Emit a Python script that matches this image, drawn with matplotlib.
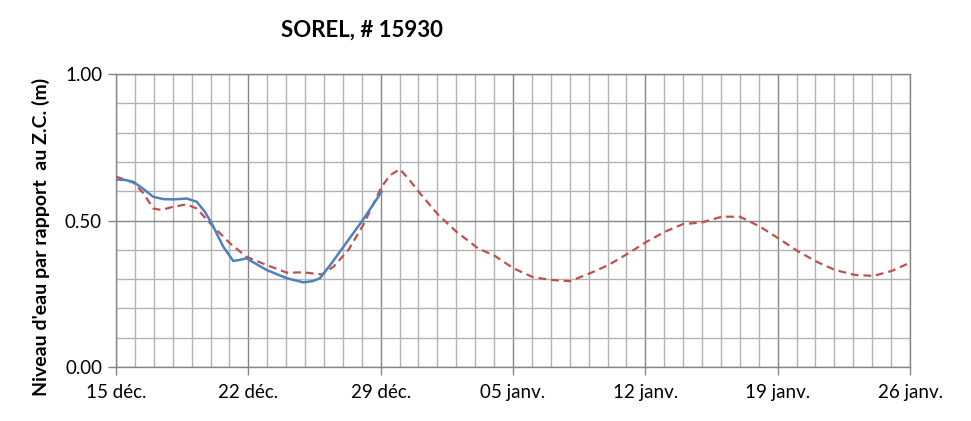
import matplotlib
matplotlib.use("Agg")
import matplotlib.pyplot as plt
from matplotlib.ticker import MultipleLocator, FixedLocator

# ---- data ----
tick_labels = ["15 déc.", "22 déc.", "29 déc.", "05 janv.", "12 janv.", "19 janv.", "26 janv."]
y_tick_labels = ["0.00", "0.50", "1.00"]

obs_days = [0, 0.5, 0.92, 1.4, 1.97, 2.5, 3.03, 3.74, 4.27, 4.7, 5.06, 5.68, 6.2, 6.5,
            6.9, 7.97, 9.03, 9.91, 10.4, 10.79, 11.4, 12.03, 13.08, 14.05]
obs_vals = [0.64, 0.638, 0.632, 0.61, 0.581, 0.573, 0.572, 0.575, 0.564, 0.53, 0.49, 0.41,
            0.362, 0.365, 0.371, 0.331, 0.303, 0.289, 0.293, 0.303, 0.354, 0.41, 0.504, 0.598]

pred_days = [0, 0.92, 1.45, 1.97, 2.4, 3.03, 3.74, 4.27, 5.06, 6.03, 6.9, 7.97, 9.03, 9.91,
             10.88, 11.5, 12.3, 13.08, 14.05, 14.5, 15.02, 15.5, 16.08, 17.05, 18.0, 19.15,
             20.05, 21.02, 22.08, 23.05, 24.02, 25.08, 26.05, 27.1, 28.08, 29.05, 30.0,
             30.98, 32.04, 33.0, 34.07, 35.04, 36.1, 37.07, 38.04, 39.1, 40.07, 41.04, 42]
pred_vals = [0.65, 0.629, 0.593, 0.541, 0.536, 0.547, 0.555, 0.541, 0.485, 0.422, 0.376,
             0.348, 0.322, 0.323, 0.316, 0.342, 0.40, 0.485, 0.615, 0.655, 0.675, 0.64,
             0.593, 0.519, 0.462, 0.405, 0.379, 0.337, 0.306, 0.297, 0.293, 0.32, 0.348,
             0.388, 0.428, 0.462, 0.488, 0.493, 0.513, 0.513, 0.479, 0.439, 0.394, 0.359,
             0.331, 0.314, 0.311, 0.328, 0.356]

plt.rcParams['font.family'] = ['Lato', 'DejaVu Sans']

fig = plt.figure(figsize=(9.71, 4.21), dpi=100)
ax = fig.add_axes([116/971, 1 - 367/421, (910-116)/971, (367-74)/421])

ax.plot(pred_days, pred_vals, color="#c0504d", lw=1.6, ls=(0, (3.5, 2.2)), zorder=3)
ax.plot(obs_days, obs_vals, color="#4f81bd", lw=1.8, zorder=4)

ax.set_xlim(0, 42)
ax.set_ylim(0, 1)
ax.xaxis.set_major_locator(MultipleLocator(7))
ax.xaxis.set_minor_locator(MultipleLocator(1))
ax.set_xticks(range(0, 43, 7), tick_labels)
ax.yaxis.set_major_locator(FixedLocator([0, 0.5, 1.0]))
ax.set_yticks([0, 0.5, 1.0], y_tick_labels)
ax.yaxis.set_minor_locator(MultipleLocator(0.1))

ax.grid(which="major", color="#868686", lw=1.0, zorder=1)
ax.grid(which="minor", color="#b3b3b3", lw=1.0, zorder=1)
ax.set_axisbelow(True)

for s in ax.spines.values():
    s.set_color("#868686")
    s.set_linewidth(1.0)

ax.tick_params(axis="both", which="major", length=6, width=1, color="#868686",
               labelsize=13.5, labelcolor="black")
ax.tick_params(axis="x", which="major", pad=6)
ax.tick_params(axis="y", which="major", pad=4)
ax.tick_params(which="minor", length=0)

fig.text(362/971, 1 - 30/421, "SOREL, # 15930", ha="center", va="center",
         fontsize=16, fontweight="bold")
fig.text(41/971, 1 - 237/421, "Niveau d'eau par rapport  au Z.C. (m)", rotation=90,
         ha="center", va="center", fontsize=14, fontweight="bold")

fig.savefig("out.png", dpi=100)
